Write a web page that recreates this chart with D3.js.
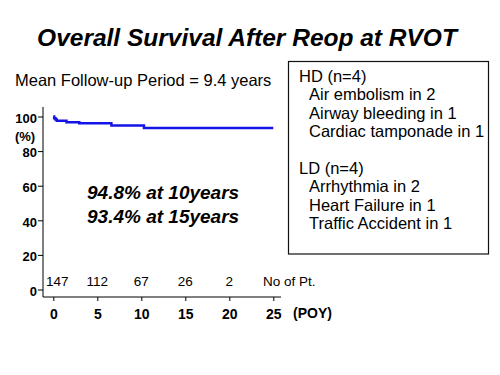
<!DOCTYPE html>
<html>
<head>
<meta charset="utf-8">
<script src="https://cdn.jsdelivr.net/npm/d3@7"></script>
<style>
  html, body { margin: 0; padding: 0; background: #fff; }
  svg { display: block; font-family: "Liberation Sans", Arial, sans-serif; }
</style>
</head>
<body>
<div id="chart"></div>
<script>
// ---- data ----
const survYears = [0, 0.1, 0.25, 0.4, 1.5, 2.95, 6.6, 10.3, 25];
const survPct   = [100, 99.0, 98.2, 97.6, 96.7, 96.1, 94.8, 93.4, 93.4];

const xTicks = [0, 5, 10, 15, 20, 25];
const yTicks = [0, 20, 40, 60, 80, 100];

const atRiskYears = [0, 5, 10, 15, 20];
const atRiskCounts = [147, 112, 67, 26, 2];

const titleText = 'Overall Survival After Reop at RVOT';
const followUpText = 'Mean Follow-up Period = 9.4 years';
const rateLines = ['94.8% at 10years', '93.4% at 15years'];

const hdGroup = 'HD (n=4)';
const hdCauses = ['Air embolism in 2', 'Airway bleeding in 1', 'Cardiac tamponade in 1'];
const ldGroup = 'LD (n=4)';
const ldCauses = ['Arrhythmia in 2', 'Heart Failure in 1', 'Traffic Accident in 1'];

// ---- layout ----
const W = 500, H = 375;
const axisX = 43, axisY = 297;

const svg = d3.select('#chart').append('svg')
  .attr('width', W).attr('height', H);

const x = d3.scaleLinear().domain([0, 25]).range([53.3, 273.3]);
const y = d3.scaleLinear().domain([0, 100]).range([289.5, 116.5]);

// title + follow-up
svg.append('text')
  .attr('x', 247).attr('y', 46)
  .attr('text-anchor', 'middle')
  .style('font-size', '24.5px').style('font-weight', 'bold').style('font-style', 'italic')
  .text(titleText);

svg.append('text')
  .attr('x', 15).attr('y', 86)
  .style('font-size', '16.5px')
  .text(followUpText);

// y axis
const yAxis = svg.append('g')
  .attr('transform', `translate(${axisX},0)`)
  .call(d3.axisLeft(y).tickValues(yTicks).tickSize(5).tickSizeOuter(0));
yAxis.select('.domain').remove();
yAxis.selectAll('.tick text')
  .attr('x', -6).attr('dy', '0.45em')
  .style('font-size', '13px').style('font-weight', 'bold')
  .style('font-family', '"Liberation Sans", Arial, sans-serif')
  .attr('fill', '#000');
yAxis.selectAll('.tick line').attr('stroke', '#000');
svg.append('line')
  .attr('x1', axisX).attr('x2', axisX)
  .attr('y1', 107).attr('y2', axisY)
  .attr('stroke', '#000').attr('stroke-width', 1);

svg.append('text')
  .attr('x', 25).attr('y', 141)
  .attr('text-anchor', 'middle')
  .style('font-size', '13px').style('font-weight', 'bold')
  .text('(%)');

// x axis
const xAxis = svg.append('g')
  .attr('transform', `translate(0,${axisY})`)
  .call(d3.axisBottom(x).tickValues(xTicks).tickSize(4).tickSizeOuter(0));
xAxis.select('.domain').remove();
xAxis.selectAll('.tick text')
  .attr('y', 12).attr('dy', '0.71em')
  .style('font-size', '14px').style('font-weight', 'bold')
  .style('font-family', '"Liberation Sans", Arial, sans-serif')
  .attr('fill', '#000');
xAxis.selectAll('.tick line').attr('stroke', '#000');
svg.append('line')
  .attr('x1', axisX).attr('x2', 281)
  .attr('y1', axisY).attr('y2', axisY)
  .attr('stroke', '#000').attr('stroke-width', 1);

svg.append('text')
  .attr('x', 293).attr('y', 318)
  .style('font-size', '14px').style('font-weight', 'bold')
  .text('(POY)');

// survival curve
const surv = survYears.map((t, i) => ({ t, p: survPct[i] }));
svg.append('path')
  .datum(surv)
  .attr('fill', 'none')
  .attr('stroke', '#1414e6')
  .attr('stroke-width', 2.5)
  .attr('d', d3.line().x(d => x(d.t)).y(d => y(d.p)).curve(d3.curveStepAfter));

// numbers at risk
svg.selectAll('.risk')
  .data(atRiskCounts)
  .join('text')
  .attr('class', 'risk')
  .attr('x', (d, i) => x(atRiskYears[i]) + (i === 0 ? 4 : 0))
  .attr('y', 286)
  .attr('text-anchor', 'middle')
  .style('font-size', '13.5px')
  .text(d => d);

svg.append('text')
  .attr('x', 263).attr('y', 286)
  .style('font-size', '13.5px')
  .text('No of Pt.');

// survival rates
svg.selectAll('.rate')
  .data(rateLines)
  .join('text')
  .attr('class', 'rate')
  .attr('x', 87).attr('y', (d, i) => 199 + i * 24)
  .style('font-size', '19px').style('font-weight', 'bold').style('font-style', 'italic')
  .text(d => d);

// causes of death box
svg.append('rect')
  .attr('x', 288.5).attr('y', 61.5)
  .attr('width', 200).attr('height', 192.5)
  .attr('fill', '#fff')
  .attr('stroke', '#111').attr('stroke-width', 1.2);

const boxLines = [
  { text: hdGroup, indent: 0 },
  ...hdCauses.map(t => ({ text: t, indent: 1 })),
  { text: '', indent: 0 },
  { text: ldGroup, indent: 0 },
  ...ldCauses.map(t => ({ text: t, indent: 1 }))
];

svg.selectAll('.cause')
  .data(boxLines)
  .join('text')
  .attr('class', 'cause')
  .attr('x', d => d.indent ? 309 : 299)
  .attr('y', (d, i) => 82 + i * 18.4)
  .style('font-size', '16.5px')
  .text(d => d.text);
</script>
</body>
</html>
